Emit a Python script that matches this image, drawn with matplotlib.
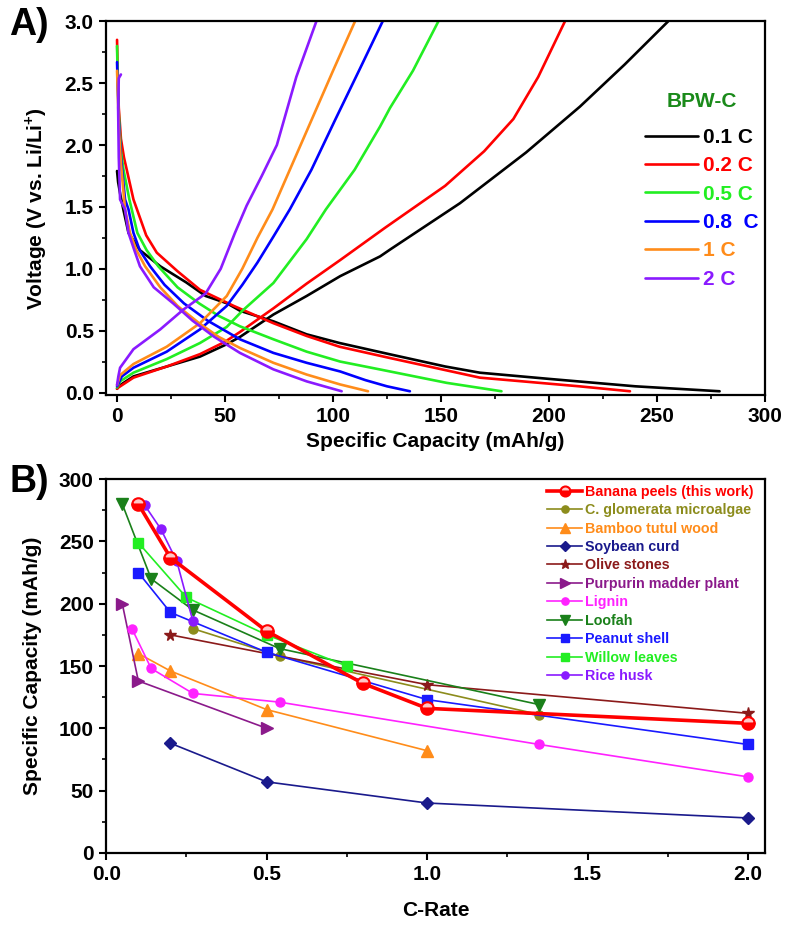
import matplotlib
matplotlib.use("Agg")
import matplotlib.pyplot as plt
from matplotlib.ticker import MultipleLocator, FormatStrFormatter

plt.rcParams["font.family"] = ["Liberation Sans", "DejaVu Sans"]
plt.rcParams["font.weight"] = "bold"
plt.rcParams["axes.labelweight"] = "bold"
plt.rcParams["mathtext.fontset"] = "custom"
plt.rcParams["mathtext.bf"] = "Liberation Sans:bold"
plt.rcParams["mathtext.rm"] = "Liberation Sans:bold"

# ---- Panel A: charge/discharge profiles of BPW-C ----
rate_labels = ["0.1 C", "0.2 C", "0.5 C", "0.8  C", "1 C", "2 C"]
rate_colors = ["#000000", "#ff0000", "#22ee22", "#0000ff", "#ff8c1a", "#8a1aff"]

dis_x = [
    [0, 0.5, 1.5, 2.9, 5.3, 10.6, 20, 32, 41, 51, 57, 72.4, 87.8, 103, 126, 152, 168, 200, 240, 279],
    [0, 0.3, 0.8, 1.8, 3.2, 4.5, 7.6, 13.5, 18.4, 28, 38.4, 54, 72.4, 87.8, 103, 126, 168, 214, 237.5],
    [0, 0.3, 0.8, 1.8, 3, 5.7, 6.8, 9.4, 13.7, 19.1, 28, 38, 47, 56.9, 72.4, 87.8, 103.3, 121.8, 152.6, 178],
    [0, 0.3, 0.8, 1.8, 3.7, 5.3, 7.6, 10.5, 15.3, 22, 31, 42, 56.9, 72.4, 87.8, 103.3, 115, 125, 135.6],
    [0, 0.3, 0.8, 1.8, 3.7, 6, 9, 13, 20, 28, 38, 47, 56.9, 72.4, 87.8, 103.3, 116.2],
    [1.8, 0.8, 0.5, 0.8, 1.4, 3.7, 5.3, 8, 10.6, 17, 26, 35, 45, 56.9, 72.4, 87.8, 104],
]
dis_v = [
    [1.79, 1.70, 1.60, 1.48, 1.29, 1.15, 1.02, 0.89, 0.78, 0.72, 0.66, 0.575, 0.47, 0.40, 0.31, 0.21, 0.16, 0.11, 0.05, 0.01],
    [2.85, 2.6, 2.3, 2.05, 1.9, 1.8, 1.56, 1.27, 1.13, 0.98, 0.83, 0.70, 0.56, 0.457, 0.37, 0.28, 0.12, 0.05, 0.01],
    [2.80, 2.55, 2.25, 1.95, 1.80, 1.56, 1.48, 1.29, 1.15, 1.02, 0.85, 0.72, 0.62, 0.535, 0.43, 0.33, 0.25, 0.186, 0.078, 0.01],
    [2.67, 2.5, 2.2, 1.9, 1.56, 1.48, 1.29, 1.15, 1.02, 0.87, 0.72, 0.58, 0.43, 0.32, 0.24, 0.17, 0.10, 0.05, 0.01],
    [2.60, 2.45, 2.15, 1.85, 1.48, 1.29, 1.15, 1.02, 0.85, 0.70, 0.56, 0.45, 0.36, 0.24, 0.145, 0.065, 0.01],
    [2.57, 2.54, 2.3, 1.9, 1.56, 1.48, 1.29, 1.15, 1.02, 0.85, 0.72, 0.58, 0.45, 0.32, 0.187, 0.09, 0.01],
]
chg_x = [
    [0, 0.6, 7.6, 23, 38.4, 50.8, 57, 72.4, 87.8, 103.3, 121.8, 126.4, 158.8, 189.4, 214.3, 235, 255.2],
    [0, 0.6, 7.6, 23, 38.4, 50, 57, 72.4, 87.8, 103.3, 124, 151.9, 170, 183.5, 195, 207.4],
    [0, 1.4, 7.6, 23, 38.4, 50.8, 58, 72.4, 87.8, 96.7, 110, 121.8, 126.4, 137, 148.8],
    [0, 2.2, 7.6, 23, 38.4, 50.8, 58, 65, 72.4, 80, 90, 100.9, 112, 123],
    [0, 1.4, 7.6, 23, 38.4, 50.8, 58, 65, 72, 80, 90, 100, 110.2],
    [0, 0.6, 1.4, 7.6, 20, 30.7, 41, 48, 54.6, 60, 67, 74, 83, 92.3],
]
chg_v = [
    [0.03, 0.05, 0.13, 0.21, 0.29, 0.39, 0.45, 0.63, 0.78, 0.94, 1.10, 1.155, 1.53, 1.94, 2.31, 2.65, 3.0],
    [0.03, 0.04, 0.12, 0.21, 0.31, 0.41, 0.49, 0.68, 0.88, 1.07, 1.33, 1.67, 1.95, 2.21, 2.55, 3.0],
    [0.04, 0.09, 0.16, 0.27, 0.40, 0.53, 0.66, 0.885, 1.24, 1.48, 1.8, 2.15, 2.3, 2.6, 3.0],
    [0.05, 0.13, 0.20, 0.33, 0.51, 0.70, 0.87, 1.05, 1.26, 1.48, 1.8, 2.2, 2.6, 3.0],
    [0.06, 0.14, 0.23, 0.37, 0.56, 0.78, 1.0, 1.25, 1.48, 1.8, 2.2, 2.6, 3.0],
    [0.06, 0.13, 0.20, 0.35, 0.51, 0.67, 0.80, 1.0, 1.29, 1.51, 1.75, 2.0, 2.55, 3.0],
]

# ---- Panel B: rate capability comparison ----
names = ["Banana peels (this work)", "C. glomerata microalgae", "Bamboo tutul wood",
         "Soybean curd", "Olive stones", "Purpurin madder plant", "Lignin", "Loofah",
         "Peanut shell", "Willow leaves", "Rice husk"]
b_colors = ["#ff0000", "#8c8c1c", "#ff8c1a", "#1a1a8c", "#8b1a1a", "#8b1a8b",
            "#ff22ff", "#1a801a", "#1a1aff", "#22ee22", "#8a1aff"]
b_markers = ["o", "o", "^", "D", "*", ">", "o", "v", "s", "s", "o"]
rate_x = [
    [0.1, 0.2, 0.5, 0.8, 1.0, 2.0],
    [0.27, 0.54, 1.35],
    [0.1, 0.2, 0.5, 1.0],
    [0.2, 0.5, 1.0, 2.0],
    [0.2, 1.0, 2.0],
    [0.05, 0.1, 0.5],
    [0.08, 0.14, 0.27, 0.54, 1.35, 2.0],
    [0.05, 0.14, 0.27, 0.54, 1.35],
    [0.1, 0.2, 0.5, 1.0, 2.0],
    [0.1, 0.25, 0.5, 0.75],
    [0.12, 0.17, 0.22, 0.27],
]
cap_y = [
    [280, 237, 178, 136, 116, 104],
    [180, 158, 111],
    [160, 146, 115, 82],
    [88, 57, 40, 28],
    [175, 135, 112],
    [200, 138, 100],
    [180, 148, 128, 121, 87, 61],
    [280, 220, 195, 164, 119],
    [225, 193, 161, 123, 87],
    [249, 205, 175, 150],
    [279, 260, 234, 186],
]

FS = 15

fig = plt.figure(figsize=(7.87, 9.25), dpi=100)
axA = fig.add_axes([0.135, 0.573, 0.837, 0.404])
axB = fig.add_axes([0.135, 0.078, 0.837, 0.404])


def style_axes(ax):
    for s in ax.spines.values():
        s.set_linewidth(1.6)
    ax.tick_params(which="major", direction="out", length=5, width=1.5, labelsize=FS, pad=4,
                   top=False, right=False)
    ax.tick_params(which="minor", direction="out", length=3, width=1.2, top=False, right=False)
    for lab in ax.get_xticklabels() + ax.get_yticklabels():
        lab.set_fontweight("bold")


# Panel A
for i in range(len(rate_labels)):
    axA.plot(dis_x[i], dis_v[i], color=rate_colors[i], lw=1.9, solid_capstyle="round")
    axA.plot(chg_x[i], chg_v[i], color=rate_colors[i], lw=1.9, label=rate_labels[i],
             solid_capstyle="round")
axA.set_xlim(-5, 300)
axA.set_ylim(-0.02, 3.0)
axA.xaxis.set_major_locator(MultipleLocator(50))
axA.xaxis.set_minor_locator(MultipleLocator(25))
axA.yaxis.set_major_locator(MultipleLocator(0.5))
axA.yaxis.set_minor_locator(MultipleLocator(0.25))
axA.yaxis.set_major_formatter(FormatStrFormatter("%.1f"))
axA.set_xlabel("Specific Capacity (mAh/g)", fontsize=FS, labelpad=4)
axA.set_ylabel(r"Voltage (V vs. Li/Li$^{\mathbf{+}}$)", fontsize=FS, labelpad=11)
style_axes(axA)
legA = axA.legend(loc="upper right", bbox_to_anchor=(0.99, 0.81), frameon=False,
                  fontsize=FS, title="BPW-C", handlelength=2.5, handletextpad=0.25,
                  labelspacing=0.45, borderaxespad=0, borderpad=0,
                  labelcolor="linecolor")
legA.get_title().set_color("#1a8a1a")
legA.get_title().set_fontsize(FS)
legA.get_title().set_fontweight("bold")
legA._legend_box.sep = 12
for t in legA.get_texts():
    t.set_fontweight("bold")

# Panel B
for i in range(len(names)):
    kw = dict(color=b_colors[i], marker=b_markers[i], lw=1.2, ms=6.5, label=names[i],
              mec=b_colors[i], zorder=2)
    if i == 0:
        kw.update(lw=2.6, ms=9, fillstyle="bottom", mfc=b_colors[i], mfcalt="#ffc8c8",
                  mew=1.5, zorder=5)
    if b_markers[i] in ("*", ">", "^", "v"):
        kw.update(ms=8.5)
    axB.plot(rate_x[i], cap_y[i], **kw)
axB.set_xlim(0, 2.053)
axB.set_ylim(0, 300)
axB.xaxis.set_major_locator(MultipleLocator(0.5))
axB.xaxis.set_minor_locator(MultipleLocator(0.25))
axB.yaxis.set_major_locator(MultipleLocator(50))
axB.yaxis.set_minor_locator(MultipleLocator(25))
axB.xaxis.set_major_formatter(FormatStrFormatter("%.1f"))
axB.set_xlabel("C-Rate", fontsize=FS, labelpad=12)
axB.set_ylabel("Specific Capacity (mAh/g)", fontsize=FS, labelpad=12)
style_axes(axB)
legB = axB.legend(loc="upper right", bbox_to_anchor=(0.982, 0.985), frameon=False,
                  fontsize=10.3, handlelength=2.4, handletextpad=0.2, labelspacing=0.31,
                  borderaxespad=0, borderpad=0, labelcolor="linecolor", markerscale=0.8)
for t in legB.get_texts():
    t.set_fontweight("bold")

fig.text(0.012, 0.962, "A)", fontsize=27, fontweight="bold")
fig.text(0.012, 0.468, "B)", fontsize=27, fontweight="bold")

fig.savefig("out.png", dpi=100)
